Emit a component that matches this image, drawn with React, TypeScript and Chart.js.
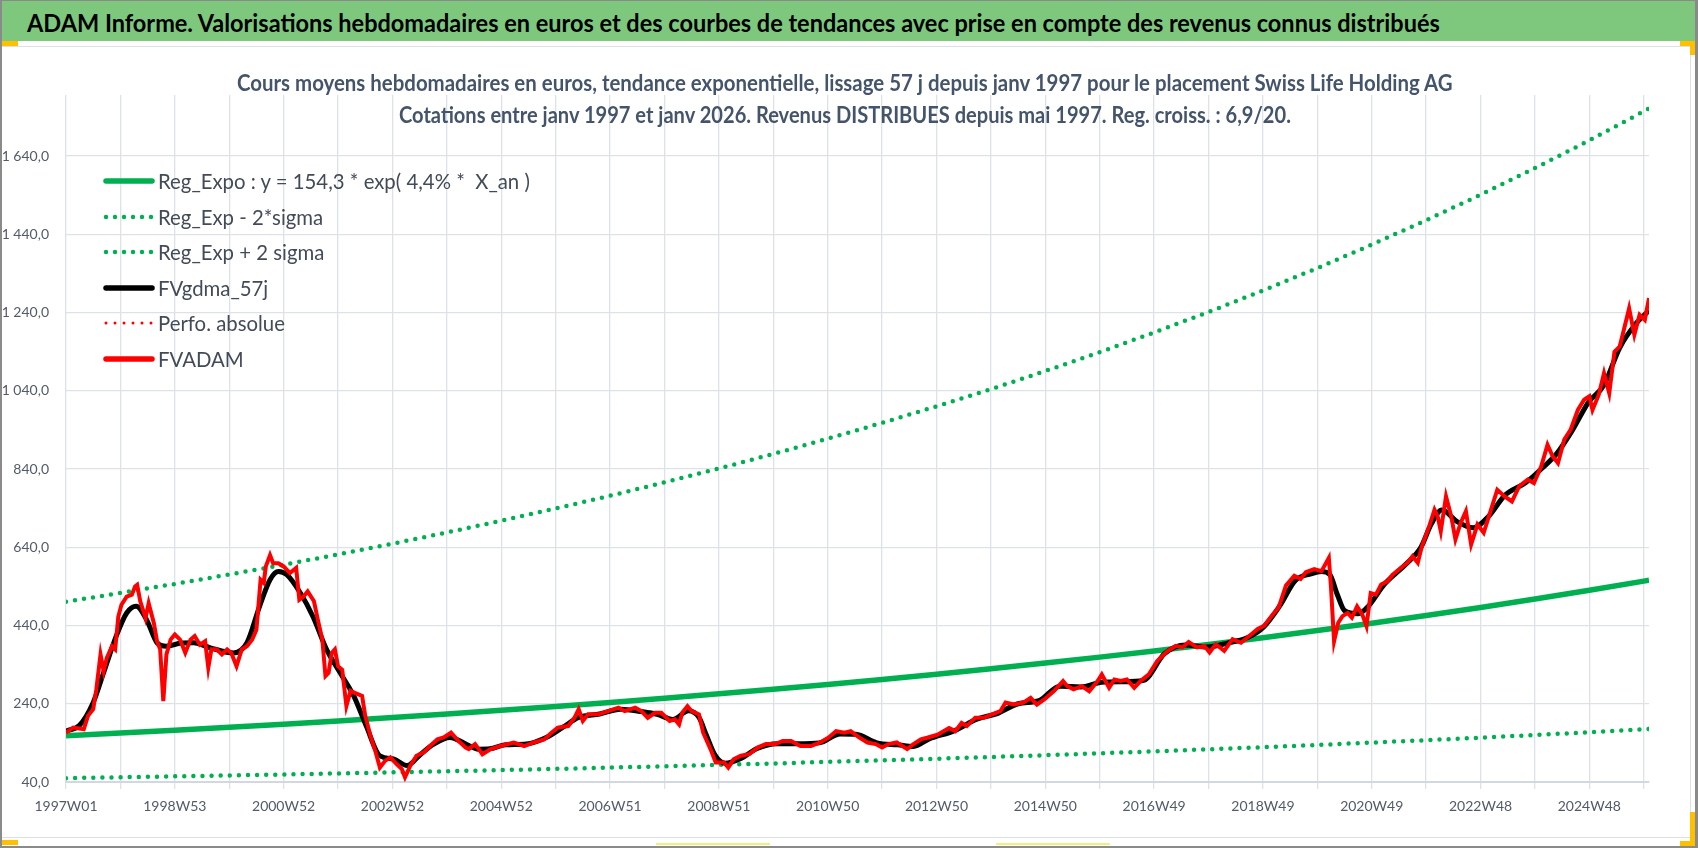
import React, { useEffect, useLayoutEffect, useRef, useState } from 'react';
import { Chart, registerables } from 'chart.js';

Chart.register(...registerables);

// ---------- texts ----------
const TITLE =
  'ADAM Informe. Valorisations hebdomadaires en euros et des courbes de tendances avec prise en compte des revenus connus distribués';
const SUBTITLE_1 =
  'Cours moyens hebdomadaires en euros, tendance exponentielle, lissage 57 j depuis janv 1997 pour le placement Swiss Life Holding AG';
const SUBTITLE_2 =
  'Cotations entre janv 1997 et janv 2026. Revenus DISTRIBUES depuis mai 1997. Reg. croiss. : 6,9/20.';

const LEGEND_LABELS = [
  'Reg_Expo : y = 154,3 * exp( 4,4% *  X_an )',
  'Reg_Exp - 2*sigma',
  'Reg_Exp + 2 sigma',
  'FVgdma_57j',
  'Perfo. absolue',
  'FVADAM',
];

// ---------- axes ----------
const X_TICK_LABELS = [
  '1997W01', '1998W53', '2000W52', '2002W52', '2004W52', '2006W51', '2008W51', '2010W50',
  '2012W50', '2014W50', '2016W49', '2018W49', '2020W49', '2022W48', '2024W48',
];
const X_GRID_STEP_WEEKS = 52;
const X_LABEL_STEP_WEEKS = 104;
const X_LAST_WEEK = 1513;
const Y_TICK_VALUES = [40, 240, 440, 640, 840, 1040, 1240, 1440, 1640];
const Y_TICK_LABELS = ['40,0', '240,0', '440,0', '640,0', '840,0', '1 040,0', '1 240,0', '1 440,0', '1 640,0'];
const Y_MIN = 40;
const Y_MAX = 1796;

// ---------- trend curves (yearly points, week index) ----------
const TREND_WEEKS = [
  0, 52, 104, 156, 208, 260, 312, 364, 416, 468, 520, 572, 624, 676, 728, 780, 832, 884, 936, 988,
  1040, 1092, 1144, 1196, 1248, 1300, 1352, 1404, 1456, 1508, 1513,
];
const REG_EXPO = [
  158.0, 165.0, 172.3, 179.9, 187.8, 196.1, 204.8, 213.8, 223.3, 233.1, 243.4, 254.2, 265.4, 277.1,
  289.4, 302.2, 315.5, 329.4, 344.0, 359.2, 375.1, 391.6, 408.9, 427.0, 445.9, 465.6, 486.1, 507.6,
  530.0, 553.4, 555.7,
];
const REG_MINUS_2SIGMA = [
  49.8, 52.1, 54.4, 56.8, 59.2, 61.9, 64.6, 67.4, 70.4, 73.5, 76.8, 80.2, 83.7, 87.4, 91.3, 95.3,
  99.5, 103.9, 108.5, 113.3, 118.3, 123.5, 129.0, 134.7, 140.7, 146.9, 153.3, 160.1, 167.2, 174.6,
  175.3,
];
const REG_PLUS_2SIGMA = [
  500.9, 523.1, 546.2, 570.3, 595.3, 621.6, 649.2, 677.7, 707.9, 738.9, 771.6, 805.8, 841.3, 878.4,
  917.4, 958.0, 1000.1, 1044.2, 1090.5, 1138.7, 1189.1, 1241.4, 1296.2, 1353.6, 1413.5, 1476.0,
  1540.9, 1609.1, 1680.1, 1754.3, 1761.5,
];

// ---------- FVADAM (weekly valuation, sampled) ----------
const FVADAM_WEEKS = [
  0, 7, 17, 21, 26, 29, 33, 36, 39, 44, 47, 50, 53, 58, 63, 66, 68, 71, 76, 79, 84, 87, 90, 93, 96,
  100, 104, 109, 114, 119, 123, 128, 133, 136, 139, 144, 149, 154, 158, 163, 168, 173, 178, 182, 186,
  189, 191, 195, 198, 203, 208, 214, 220, 223, 227, 231, 237, 241, 245, 248, 251, 254, 257, 260, 264,
  268, 272, 276, 283, 286, 291, 296, 300, 305, 310, 316, 321, 324, 329, 335, 342, 348, 355, 361, 368,
  375, 382, 385, 391, 398, 406, 415, 428, 438, 447, 457, 464, 470, 480, 486, 490, 494, 499, 509, 518,
  528, 534, 544, 550, 556, 563, 569, 577, 582, 586, 589, 594, 598, 605, 609, 616, 621, 629, 633, 638,
  645, 653, 661, 669, 678, 685, 693, 702, 712, 721, 729, 736, 744, 750, 758, 766, 774, 780, 786, 794,
  804, 810, 817, 823, 833, 844, 850, 856, 861, 869, 877, 885, 893, 898, 906, 915, 922, 928, 935, 944,
  953, 957, 963, 971, 978, 986, 990, 997, 1002, 1008, 1014, 1021, 1027, 1035, 1043, 1053, 1061, 1067,
  1073, 1081, 1088, 1093, 1099, 1107, 1115, 1123, 1131, 1139, 1145, 1151, 1159, 1166, 1174, 1180,
  1185, 1193, 1200, 1207, 1209, 1212, 1216, 1220, 1225, 1229, 1234, 1239, 1243, 1247, 1252, 1257,
  1263, 1268, 1274, 1282, 1287, 1292, 1296, 1303, 1308, 1311, 1314, 1319, 1324, 1328, 1333, 1338,
  1343, 1349, 1355, 1362, 1368, 1375, 1382, 1389, 1397, 1403, 1410, 1416, 1421, 1426, 1432, 1438,
  1445, 1451, 1456, 1459, 1465, 1470, 1475, 1480, 1485, 1489, 1494, 1499, 1504, 1509, 1513,
];
const FVADAM = [
  166, 179, 175, 209, 226, 277, 366, 323, 357, 387, 379, 463, 493, 514, 519, 540, 544, 502, 459, 497,
  446, 400, 379, 247, 366, 404, 417, 404, 370, 404, 413, 391, 400, 332, 379, 379, 366, 379, 370, 336,
  379, 387, 404, 429, 557, 549, 591, 620, 599, 599, 591, 574, 587, 506, 514, 527, 502, 451, 404, 311,
  319, 370, 379, 336, 327, 234, 273, 268, 260, 209, 158, 116, 77, 94, 103, 86, 73, 52, 81, 107, 116,
  132, 149, 154, 166, 145, 128, 124, 137, 111, 124, 132, 141, 132, 141, 149, 166, 179, 183, 204, 226,
  196, 213, 213, 221, 230, 221, 230, 221, 204, 217, 217, 196, 200, 187, 217, 234, 221, 213, 166, 124,
  90, 90, 77, 98, 107, 111, 128, 137, 137, 145, 145, 132, 132, 141, 154, 170, 166, 170, 154, 141, 137,
  128, 137, 141, 124, 137, 149, 153, 161, 178, 170, 191, 183, 204, 204, 213, 221, 243, 238, 243, 255,
  238, 251, 272, 298, 285, 277, 285, 272, 298, 315, 281, 302, 298, 302, 281, 298, 315, 349, 375, 388,
  384, 398, 384, 388, 371, 392, 375, 405, 396, 413, 431, 439, 460, 486, 542, 567, 559, 576, 584, 579,
  613, 540, 400, 447, 464, 472, 460, 489, 468, 438, 523, 519, 545, 553, 570, 583, 600, 617, 600, 643,
  694, 736, 719, 681, 770, 719, 660, 702, 732, 647, 698, 677, 736, 787, 770, 757, 796, 813, 804, 847,
  902, 872, 855, 915, 940, 991, 1017, 1026, 991, 1030, 1085, 1034, 1140, 1153, 1196, 1251, 1183, 1234,
  1221, 1277,
];

// ---------- FVgdma_57j (smoothed) ----------
const FVGDMA_WEEKS = [
  0, 13, 26, 36, 48, 58, 67, 77, 87, 96, 110, 122, 138, 160, 173, 185, 195, 203, 211, 224, 236, 249,
  262, 275, 287, 300, 313, 326, 339, 351, 367, 383, 394, 405, 420, 440, 460, 475, 490, 510, 530, 550,
  565, 580, 595, 605, 612, 620, 630, 645, 660, 680, 700, 720, 740, 755, 775, 795, 810, 825, 850, 870,
  890, 910, 930, 950, 970, 990, 1010, 1030, 1050, 1070, 1090, 1110, 1130, 1145, 1160, 1175, 1190,
  1200, 1208, 1215, 1222, 1235, 1245, 1260, 1280, 1295, 1305, 1315, 1330, 1345, 1360, 1375, 1395,
  1410, 1425, 1440, 1455, 1470, 1485, 1500, 1513,
];
const FVGDMA_57J = [
  170, 185, 243, 320, 413, 472, 489, 455, 396, 387, 395, 396, 383, 370, 396, 489, 557, 578, 570, 523,
  463, 379, 319, 260, 183, 107, 99, 82, 111, 136, 154, 136, 124, 125, 135, 137, 155, 180, 205, 214,
  226, 220, 213, 200, 222, 205, 160, 110, 88, 100, 125, 138, 138, 140, 163, 162, 140, 135, 131, 150,
  172, 200, 215, 240, 248, 285, 283, 295, 296, 300, 368, 390, 385, 395, 410, 437, 490, 555, 572, 578,
  570, 520, 478, 470, 490, 545, 595, 640, 700, 735, 705, 690, 720, 772, 805, 840, 880, 940, 1010,
  1055, 1150, 1210, 1245,
];

const PERFO_ABSOLUE_WEEKS: number[] = [];
const PERFO_ABSOLUE: number[] = [];

// ---------- styling ----------
const FONT = "Lato, 'Open Sans', 'DejaVu Sans', sans-serif";
const AXIS_FONT = "Lato, 'Liberation Sans', sans-serif";
const GREEN = '#00b050';
const RED = '#ff0000';
const GRID = '#dde1e8';
const AXIS_TEXT = '#535a69';

const W = 1698;
const H = 848;

function FitText(props: {
  text: string;
  left: number;
  top: number;
  width: number;
  fontSize: number;
  fontWeight?: number;
  color: string;
}) {
  const ref = useRef<HTMLSpanElement>(null);
  const [k, setK] = useState(1);
  useLayoutEffect(() => {
    const el = ref.current;
    if (el && el.offsetWidth > 0) setK(props.width / el.offsetWidth);
  }, [props.text, props.width, props.fontSize]);
  return (
    <span
      ref={ref}
      style={{
        position: 'absolute',
        left: props.left,
        top: props.top,
        whiteSpace: 'pre',
        fontFamily: FONT,
        fontSize: props.fontSize,
        fontWeight: props.fontWeight ?? 400,
        lineHeight: 1,
        color: props.color,
        transform: `scaleX(${k})`,
        transformOrigin: '0 0',
      }}
    >
      {props.text}
    </span>
  );
}

const LEGEND_STYLES = [
  { color: GREEN, width: 5.5, dotted: false },
  { color: GREEN, width: 4.5, dotted: true },
  { color: GREEN, width: 4.5, dotted: true },
  { color: '#000000', width: 5.5, dotted: false },
  { color: RED, width: 3, dotted: true },
  { color: RED, width: 5.5, dotted: false },
];

function Legend() {
  const firstRef = useRef<HTMLSpanElement>(null);
  const [k, setK] = useState(1);
  const textLeft = 158;
  const firstWidth = 372;
  const rowTop = 181;
  const rowStep = 35.6;
  const fs = 21;
  useLayoutEffect(() => {
    const el = firstRef.current;
    if (el && el.offsetWidth > 0) setK(firstWidth / el.offsetWidth);
  }, []);
  return (
    <>
      {LEGEND_LABELS.map((label, i) => {
        const cy = rowTop + i * rowStep;
        const st = LEGEND_STYLES[i];
        return (
          <React.Fragment key={label}>
            <svg
              width={56}
              height={10}
              style={{ position: 'absolute', left: 102, top: cy - 5 }}
            >
              <line
                x1={4}
                y1={5}
                x2={50}
                y2={5}
                stroke={st.color}
                strokeWidth={st.width}
                strokeLinecap="round"
                strokeDasharray={st.dotted ? '0 9' : undefined}
              />
            </svg>
            <span
              ref={i === 0 ? firstRef : undefined}
              style={{
                position: 'absolute',
                left: textLeft,
                top: cy - 0.527 * fs,
                whiteSpace: 'pre',
                fontFamily: FONT,
                fontSize: fs,
                lineHeight: 1,
                color: '#434a58',
                transform: `scaleX(${k})`,
                transformOrigin: '0 0',
              }}
            >
              {label}
            </span>
          </React.Fragment>
        );
      })}
    </>
  );
}

export default function App() {
  const canvasRef = useRef<HTMLCanvasElement>(null);

  useEffect(() => {
    document.body.style.margin = '0';
    const canvas = canvasRef.current;
    if (!canvas) return;
    const pts = (xs: number[], ys: number[]) => xs.map((x, i) => ({ x, y: ys[i] }));
    const xGrid: number[] = [];
    for (let w = 0; w <= X_LAST_WEEK; w += X_GRID_STEP_WEEKS) xGrid.push(w);

    const chart = new Chart(canvas, {
      type: 'line',
      data: {
        datasets: [
          {
            label: LEGEND_LABELS[5],
            data: pts(FVADAM_WEEKS, FVADAM),
            borderColor: RED,
            borderWidth: 4,
            pointRadius: 0,
            tension: 0,
          },
          {
            label: LEGEND_LABELS[3],
            data: pts(FVGDMA_WEEKS, FVGDMA_57J),
            borderColor: '#000000',
            borderWidth: 5,
            pointRadius: 0,
            cubicInterpolationMode: 'monotone',
          },
          {
            label: LEGEND_LABELS[4],
            data: pts(PERFO_ABSOLUE_WEEKS, PERFO_ABSOLUE),
            borderColor: RED,
            borderWidth: 3,
            borderDash: [0, 9],
            borderCapStyle: 'round',
            pointRadius: 0,
          },
          {
            label: LEGEND_LABELS[0],
            data: pts(TREND_WEEKS, REG_EXPO),
            borderColor: GREEN,
            borderWidth: 5.5,
            pointRadius: 0,
            tension: 0,
          },
          {
            label: LEGEND_LABELS[1],
            data: pts(TREND_WEEKS, REG_MINUS_2SIGMA),
            borderColor: GREEN,
            borderWidth: 4.5,
            borderDash: [0, 9.1],
            borderCapStyle: 'round',
            pointRadius: 0,
            tension: 0,
          },
          {
            label: LEGEND_LABELS[2],
            data: pts(TREND_WEEKS, REG_PLUS_2SIGMA),
            borderColor: GREEN,
            borderWidth: 4.5,
            borderDash: [0, 9.1],
            borderCapStyle: 'round',
            pointRadius: 0,
            tension: 0,
          },
        ],
      },
      options: {
        responsive: false,
        animation: false,
        layout: { padding: { left: 0, right: 49, top: 95, bottom: 0 } },
        plugins: {
          legend: { display: false },
          tooltip: { enabled: false },
          title: { display: false },
        },
        scales: {
          x: {
            type: 'linear',
            min: 0,
            max: X_LAST_WEEK,
            afterBuildTicks: (s: any) => {
              s.ticks = xGrid.map((v) => ({ value: v }));
            },
            afterFit: (s: any) => {
              s.height = 66;
            },
            grid: { color: GRID, lineWidth: 1.3, tickLength: 7, drawTicks: true },
            border: { color: '#d3d8e0', width: 2 },
            ticks: {
              autoSkip: false,
              maxRotation: 0,
              minRotation: 0,
              padding: 9,
              color: AXIS_TEXT,
              font: { family: AXIS_FONT, size: 14 },
              callback: (v: any) =>
                Number(v) % X_LABEL_STEP_WEEKS === 0 ? X_TICK_LABELS[Number(v) / X_LABEL_STEP_WEEKS] ?? '' : '',
            },
          },
          y: {
            min: Y_MIN,
            max: Y_MAX,
            afterBuildTicks: (s: any) => {
              s.ticks = Y_TICK_VALUES.map((v) => ({ value: v }));
            },
            afterFit: (s: any) => {
              s.width = 66;
            },
            grid: { color: GRID, lineWidth: 1.3, drawTicks: false },
            border: { display: false },
            ticks: {
              padding: 17,
              color: AXIS_TEXT,
              font: { family: AXIS_FONT, size: 14 },
              callback: (v: any) => {
                const i = Y_TICK_VALUES.indexOf(Number(v));
                return i >= 0 ? Y_TICK_LABELS[i] : '';
              },
            },
          },
        },
      } as any,
    });
    return () => chart.destroy();
  }, []);

  return (
    <div
      style={{
        position: 'relative',
        width: W,
        height: H,
        background: '#ffffff',
        overflow: 'hidden',
      }}
    >
      <canvas
        ref={canvasRef}
        width={W}
        height={H}
        style={{ position: 'absolute', left: 0, top: 0, width: W, height: H }}
      />
      {/* chart frame (light) */}
      <div
        style={{
          position: 'absolute',
          left: 2,
          top: 46,
          width: 1689,
          height: 792,
          borderTop: '1.5px solid #dcdfe4',
          borderRight: '1.5px solid #dcdfe4',
          borderBottom: '1.5px solid #dcdfe4',
          boxSizing: 'border-box',
        }}
      />
      {/* title band */}
      <div style={{ position: 'absolute', left: 2, top: 1, width: 1693, height: 40, background: '#7ec87e' }} />
      {/* outer border */}
      <div
        style={{
          position: 'absolute',
          left: 0,
          top: 0,
          width: W,
          height: H,
          boxSizing: 'border-box',
          borderLeft: '2px solid #8a8a8a',
          borderTop: '1px solid #8a8a8a',
          borderRight: '3px solid #8a8a8a',
          borderBottom: '2px solid #8a8a8a',
        }}
      />
      {/* selection handles */}
      <div style={{ position: 'absolute', left: 2, top: 41, width: 16, height: 5, background: '#ffc000' }} />
      <div style={{ position: 'absolute', left: 1680, top: 41, width: 15, height: 5, background: '#ffc000' }} />
      <div style={{ position: 'absolute', left: 1690, top: 41, width: 5, height: 14, background: '#ffc000' }} />
      <div style={{ position: 'absolute', left: 1690, top: 812, width: 5, height: 34, background: '#ffc000' }} />
      <div style={{ position: 'absolute', left: 1680, top: 841, width: 15, height: 5, background: '#ffc000' }} />
      <div style={{ position: 'absolute', left: 2, top: 840, width: 16, height: 5, background: '#ffc000' }} />
      <div style={{ position: 'absolute', left: 656, top: 843, width: 114, height: 2, background: '#f6ee7c' }} />
      <div style={{ position: 'absolute', left: 996, top: 843, width: 114, height: 2, background: '#f6ee7c' }} />

      <FitText text={TITLE} left={27} top={23 - 0.527 * 25} width={1413} fontSize={25} fontWeight={700} color="#000000" />
      <FitText
        text={SUBTITLE_1}
        left={845 - 1216 / 2}
        top={83 - 0.527 * 23}
        width={1216}
        fontSize={23}
        fontWeight={700}
        color="#44546a"
      />
      <FitText
        text={SUBTITLE_2}
        left={845 - 892 / 2}
        top={115 - 0.527 * 23}
        width={892}
        fontSize={23}
        fontWeight={700}
        color="#44546a"
      />
      <Legend />
    </div>
  );
}
